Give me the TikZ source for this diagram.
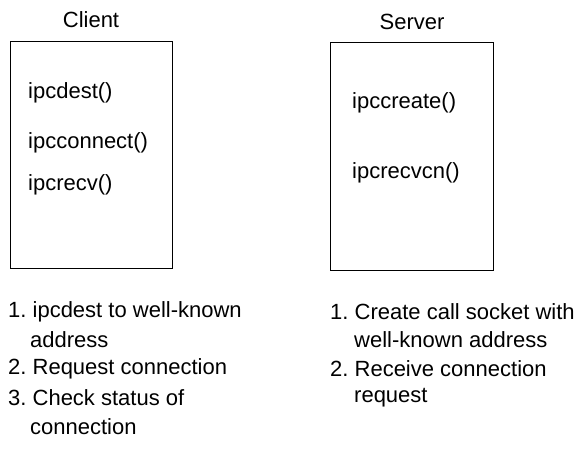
\documentclass[tikz,border=0pt]{standalone}
\usepackage{fontspec}
\setmainfont{Liberation Sans}
\frenchspacing
\begin{document}
\begin{tikzpicture}[x=1pt,y=-1pt,
  box/.style={draw, line width=1.2pt, inner sep=0pt},
  lbl/.style={font=\fontsize{22}{26}\selectfont, anchor=west, inner sep=0pt},
  ttl/.style={font=\fontsize{22}{26}\selectfont, inner sep=0pt}]
\useasboundingbox (0,0) rectangle (588,450);
\node[box, minimum width=162pt, minimum height=227pt, anchor=north west] (client) at (10,41) {};
\node[box, minimum width=163pt, minimum height=228pt, anchor=north west] (server) at (330,42) {};
\node[ttl] (ct) at (91,20) {Client};
\node[ttl] (st) at (412,22) {Server};
\node[lbl] (c1) at (28,93) {ipcdest()};
\node[lbl] (c2) at (28,143) {ipcconnect()};
\node[lbl] (c3) at (28,185) {ipcrecv()};
\node[lbl] (s1) at (352,103) {ipccreate()};
\node[lbl] (s2) at (352,173) {ipcrecvcn()};
\node[lbl] (a1) at (8,312) {1. ipcdest to well-known};
\node[lbl] (a2) at (30,340) {address};
\node[lbl] (a3) at (8,369) {2. Request connection};
\node[lbl] (a4) at (8,398) {3. Check status of};
\node[lbl] (a5) at (30,427) {connection};
\node[lbl] (b1) at (330,312) {1. Create call socket with};
\node[lbl] (b2) at (354,340) {well-known address};
\node[lbl] (b3) at (330,369) {2. Receive connection};
\node[lbl] (b4) at (354,398) {request};
\end{tikzpicture}
\end{document}
